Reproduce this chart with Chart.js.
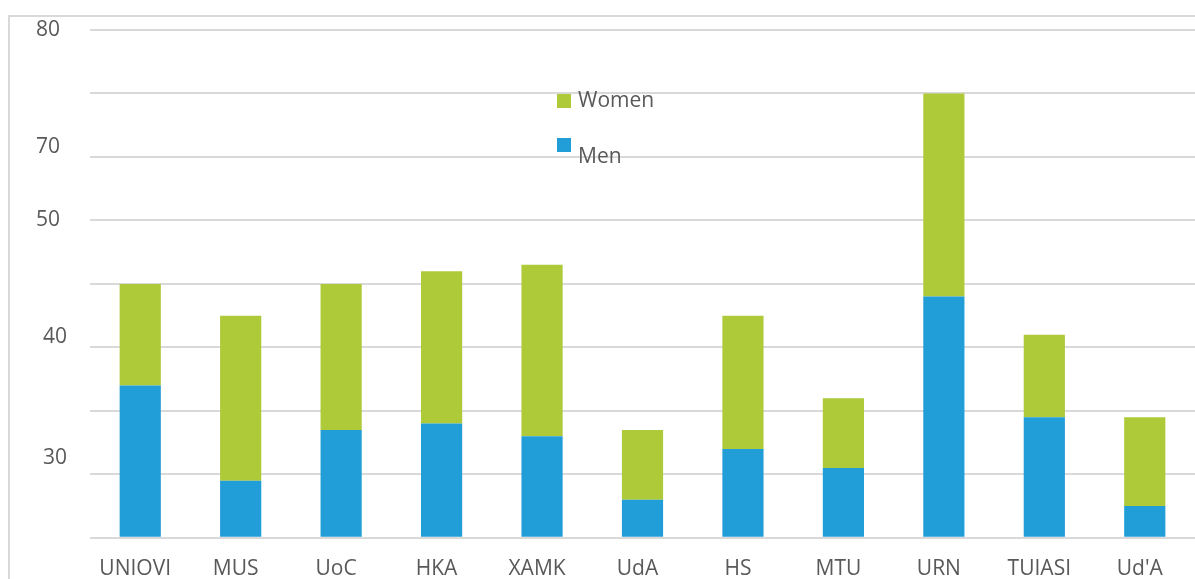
<!DOCTYPE html>
<html>
<head>
<meta charset="utf-8">
<script src="https://cdn.jsdelivr.net/npm/chart.js@4/dist/chart.umd.min.js"></script>
<style>
  html, body { margin: 0; padding: 0; background: #fff; overflow: hidden; }
  #wrap { position: relative; width: 1195px; height: 579px; overflow: hidden; }
  #frame { position: absolute; left: 8px; top: 15px; width: 1200px; height: 600px; border: 2px solid #d9d9d9; box-sizing: border-box; }
  canvas { position: absolute; left: 0; top: 0; }
  .lg { position: absolute; font: 21px "Open Sans", sans-serif; color: #595959; }
  .lg span { position: absolute; left: 0; width: 14px; height: 14px; }
</style>
</head>
<body>
<div id="wrap">
  <div id="frame"></div>
  <canvas id="chart" width="1195" height="593"></canvas>
  <div class="lg" style="left:557px; top:85px;"><span style="top:9px; background:#aeca38"></span><div style="margin-left:21px">Women</div></div>
  <div class="lg" style="left:557px; top:141px;"><span style="top:-3px; background:#219dd8"></span><div style="margin-left:21px">Men</div></div>
</div>
<script>
// data
const universities = ['UNIOVI', 'MUS', 'UoC', 'HKA', 'XAMK', 'UdA', 'HS', 'MTU', 'URN', 'TUIASI', "Ud'A"];
const men   = [24, 9, 17, 18, 16, 6, 14, 11, 38, 19, 5];
const women = [16, 26, 23, 24, 27, 11, 21, 11, 32, 13, 14];

// y labels as printed on the original (they sit off the gridlines)
const yLabels = ['80', '70', '50', '40', '30'];
const yLabelValues = [80, 61.5, 50, 31.6, 12.6];
const yLabelRight = [60, 60, 60, 67, 67];

const yLabelPlugin = {
    id: 'yLabels',
    afterDraw(chart) {
        const ctx = chart.ctx;
        const y = chart.scales.y;
        ctx.save();
        ctx.font = '21px "Open Sans", sans-serif';
        ctx.fillStyle = '#595959';
        ctx.textAlign = 'right';
        ctx.textBaseline = 'middle';
        yLabels.forEach((lab, i) => {
            ctx.fillText(lab, yLabelRight[i], y.getPixelForValue(yLabelValues[i]));
        });
        ctx.restore();
    }
};

new Chart(document.getElementById('chart').getContext('2d'), {
    type: 'bar',
    data: {
        labels: universities,
        datasets: [
            { label: 'Men', data: men, backgroundColor: '#219dd8' },
            { label: 'Women', data: women, backgroundColor: '#aeca38' }
        ]
    },
    options: {
        responsive: false,
        animation: false,
        layout: { padding: { left: 90, top: 30, right: 0, bottom: 0 } },
        plugins: { legend: { display: false }, tooltip: { enabled: false } },
        datasets: { bar: { categoryPercentage: 1, barPercentage: 0.41 } },
        scales: {
            x: {
                stacked: true,
                grid: { display: false },
                border: { display: false },
                ticks: { color: '#595959', font: { family: 'Open Sans', size: 21 }, padding: 11, maxRotation: 0, labelOffset: -5 }
            },
            y: {
                stacked: true,
                min: 0,
                max: 80,
                grid: { color: '#d9d9d9', lineWidth: 2, drawTicks: false },
                border: { display: false },
                ticks: { display: false, stepSize: 10 }
            }
        }
    },
    plugins: [yLabelPlugin]
});
</script>
</body>
</html>
